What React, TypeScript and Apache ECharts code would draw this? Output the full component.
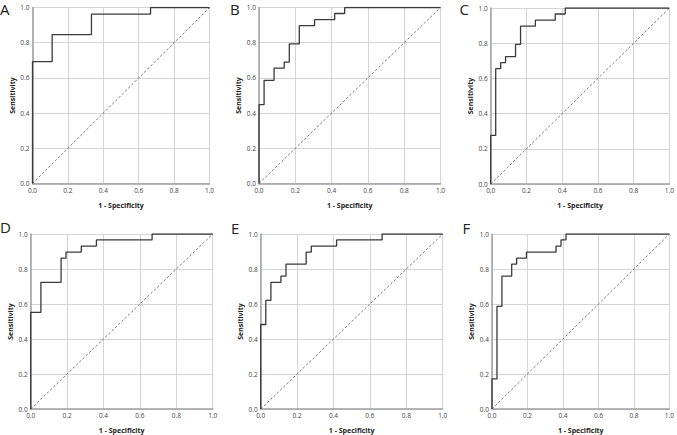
import React, { useEffect, useRef } from "react";
import * as echarts from "echarts";

const panelLabels = ["A", "B", "C", "D", "E", "F"];

const aFpr = [0, 0, 0.111, 0.111, 0.333, 0.333, 0.667, 0.667, 1];
const aTpr = [0, 0.692, 0.692, 0.846, 0.846, 0.962, 0.962, 1, 1];

const bFpr = [0, 0, 0.028, 0.028, 0.083, 0.083, 0.139, 0.139, 0.167, 0.167, 0.222, 0.222, 0.306, 0.306, 0.417, 0.417, 0.472, 0.472, 1];
const bTpr = [0, 0.448, 0.448, 0.586, 0.586, 0.655, 0.655, 0.69, 0.69, 0.793, 0.793, 0.897, 0.897, 0.931, 0.931, 0.966, 0.966, 1, 1];

const cFpr = [0, 0, 0.028, 0.028, 0.056, 0.056, 0.083, 0.083, 0.139, 0.139, 0.167, 0.167, 0.25, 0.25, 0.361, 0.361, 0.417, 0.417, 1];
const cTpr = [0, 0.276, 0.276, 0.655, 0.655, 0.69, 0.69, 0.724, 0.724, 0.793, 0.793, 0.897, 0.897, 0.931, 0.931, 0.966, 0.966, 1, 1];

const dFpr = [0, 0, 0.056, 0.056, 0.167, 0.167, 0.194, 0.194, 0.278, 0.278, 0.361, 0.361, 0.667, 0.667, 1];
const dTpr = [0, 0.552, 0.552, 0.724, 0.724, 0.862, 0.862, 0.897, 0.897, 0.931, 0.931, 0.966, 0.966, 1, 1];

const eFpr = [0, 0, 0.028, 0.028, 0.056, 0.056, 0.111, 0.111, 0.139, 0.139, 0.25, 0.25, 0.278, 0.278, 0.417, 0.417, 0.667, 0.667, 1];
const eTpr = [0, 0.483, 0.483, 0.621, 0.621, 0.724, 0.724, 0.759, 0.759, 0.828, 0.828, 0.897, 0.897, 0.931, 0.931, 0.966, 0.966, 1, 1];

const fFpr = [0, 0, 0.028, 0.028, 0.056, 0.056, 0.111, 0.111, 0.139, 0.139, 0.194, 0.194, 0.361, 0.361, 0.389, 0.389, 0.417, 0.417, 1];
const fTpr = [0, 0.172, 0.172, 0.586, 0.586, 0.759, 0.759, 0.828, 0.828, 0.862, 0.862, 0.897, 0.897, 0.931, 0.931, 0.966, 0.966, 1, 1];

const refFpr = [0, 1];
const refTpr = [0, 1];

const xTitle = "1 - Specificity";
const yTitle = "Sensitivity";

const curves = [
  [aFpr, aTpr],
  [bFpr, bTpr],
  [cFpr, cTpr],
  [dFpr, dTpr],
  [eFpr, eTpr],
  [fFpr, fTpr],
];

const grids = [
  { left: 32.5, top: 7.5, width: 177, height: 176 },
  { left: 259, top: 7.5, width: 181.5, height: 176 },
  { left: 490.7, top: 8, width: 182, height: 176 },
  { left: 30.7, top: 234, width: 182, height: 176.7 },
  { left: 260.7, top: 234, width: 182, height: 176.7 },
  { left: 492, top: 234, width: 179.3, height: 176.7 },
];

const letterPos = [
  [0, 1],
  [230, 1],
  [459.5, 1],
  [0, 219],
  [231, 220],
  [462.5, 220],
];

const FONT = "'Open Sans', 'Noto Sans', sans-serif";

export default function App() {
  const ref = useRef<HTMLDivElement>(null);
  useEffect(() => {
    if (!ref.current) return;
    const chart = echarts.init(ref.current, undefined, { renderer: "svg" });
    const xAxis: any[] = [];
    const yAxis: any[] = [];
    const series: any[] = [];
    grids.forEach((g, i) => {
      const common = {
        gridIndex: i,
        type: "value",
        min: 0,
        max: 1,
        interval: 0.2,
        nameLocation: "middle",
        nameTextStyle: { fontFamily: FONT, fontSize: 7, fontWeight: "bold", color: "#222" },
        axisLine: { show: true, lineStyle: { color: "#a0a0a0", width: 1.5 } },
        axisTick: { show: false },
        splitLine: { show: true, lineStyle: { color: "#d4d4d4", width: 1 } },
        axisLabel: {
          fontFamily: FONT,
          fontSize: 6.5,
          color: "#444",
          formatter: (v: number) => v.toFixed(1),
        },
      };
      xAxis.push({ ...common, name: xTitle, nameGap: 18, axisLabel: { ...common.axisLabel, margin: 3 } });
      yAxis.push({ ...common, name: yTitle, nameGap: 17, axisLabel: { ...common.axisLabel, margin: 3 } });
      const [fx, fy] = curves[i];
      series.push({
        type: "line",
        xAxisIndex: i,
        yAxisIndex: i,
        data: refFpr.map((x, k) => [x, refTpr[k]]),
        showSymbol: false,
        lineStyle: { color: "#555", width: 0.8, type: [2.5, 2] },
        silent: true,
      });
      series.push({
        type: "line",
        xAxisIndex: i,
        yAxisIndex: i,
        data: fx.map((x, k) => [x, fy[k]]),
        showSymbol: false,
        lineStyle: { color: "#3a3a3a", width: 1.3 },
        silent: true,
      });
    });
    chart.setOption({
      animation: false,
      backgroundColor: "#ffffff",
      grid: grids.map((g) => ({ ...g, containLabel: false })),
      xAxis,
      yAxis,
      series,
      graphic: panelLabels.map((t, i) => ({
        type: "text",
        left: letterPos[i][0],
        top: letterPos[i][1],
        style: { text: t, fontFamily: FONT, fontSize: 15, fill: "#222", fontWeight: "normal" },
      })),
    });
    return () => chart.dispose();
  }, []);
  return (
    <div
      ref={ref}
      style={{ position: "fixed", left: 0, top: 0, width: 677, height: 435 }}
    />
  );
}
